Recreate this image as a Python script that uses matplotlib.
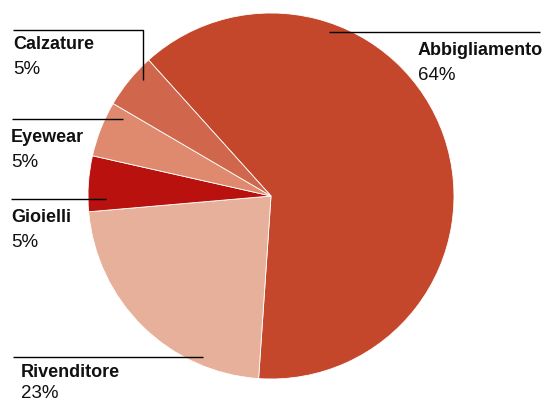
import matplotlib.pyplot as plt

categories = ["Abbigliamento", "Rivenditore", "Gioielli", "Eyewear", "Calzature"]
values = [64, 23, 5, 5, 5]
colors = ["#C4472B", "#E7B09A", "#B8110E", "#DF8A6F", "#D0674C"]

W, H = 544, 403
fig = plt.figure(figsize=(W / 100, H / 100), dpi=100)
ax = fig.add_axes([0, 0, 1, 1])

# pie in pixel space (y flipped)
cx, cy, r = 271, H - 196, 183
ax.pie(values, colors=colors, startangle=132, counterclock=False,
       center=(cx, cy), radius=r, frame=True,
       wedgeprops=dict(edgecolor="white", linewidth=0.6))
ax.set_xlim(0, W)
ax.set_ylim(0, H)
ax.set_aspect("equal")
ax.axis("off")

# label layout: (line points, text x, name baseline, percent baseline)
layout = {
    "Abbigliamento": ([(329, 31.5), (540, 31.5)], 418, 55, 80),
    "Calzature": ([(13, 29.5), (143, 29.5), (143, 80)], 13, 49, 74),
    "Eyewear": ([(12, 118.5), (123, 118.5)], 11, 142, 167),
    "Gioielli": ([(11, 199), (106, 199)], 11, 222, 247),
    "Rivenditore": ([(13, 357), (203, 357)], 21, 377, 398),
}

font = "Liberation Sans"
for name, v in zip(categories, values):
    pts, tx, ty, py = layout[name]
    xs = [p[0] for p in pts]
    ys = [H - p[1] for p in pts]
    ax.plot(xs, ys, color="black", lw=1.0, solid_capstyle="butt")
    ax.text(tx, H - ty, name, fontsize=13, fontweight="bold", family=font,
            color="#111111", va="baseline", ha="left")
    ax.text(tx, H - py, f"{v}%", fontsize=13.5, family=font,
            color="#111111", va="baseline", ha="left")

fig.savefig("out.png", dpi=100)
